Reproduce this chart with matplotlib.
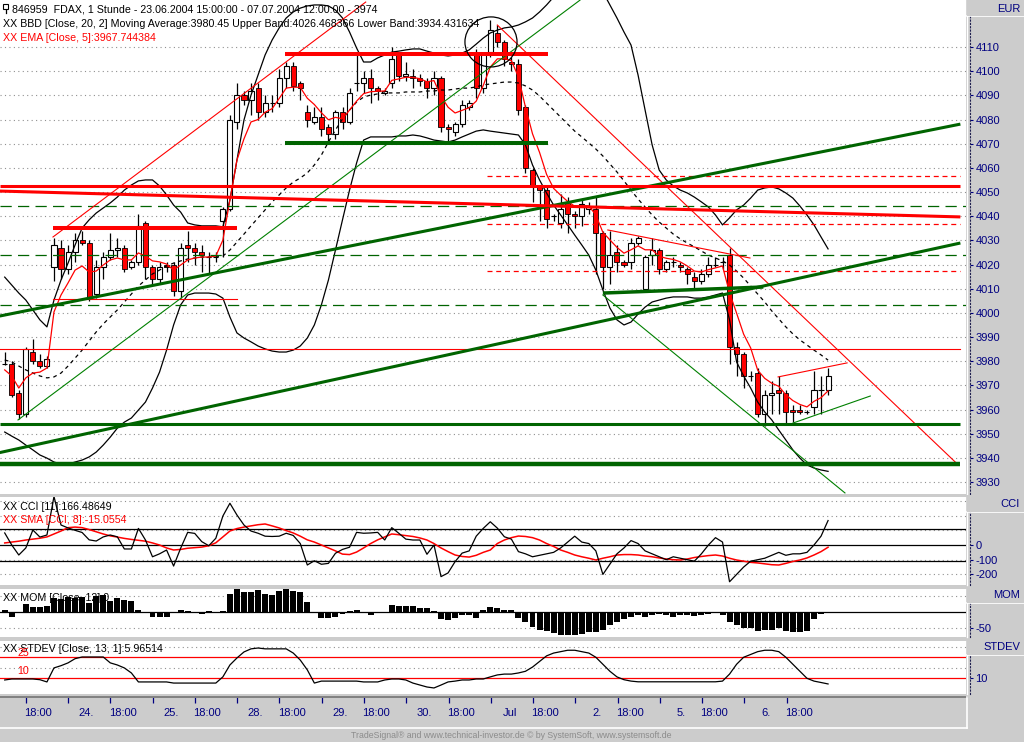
import numpy as np
import matplotlib
matplotlib.use("Agg")
import matplotlib.pyplot as plt
from matplotlib.patches import Ellipse, Rectangle
from matplotlib.lines import Line2D
from matplotlib.transforms import blended_transform_factory

plt.rcParams['font.family'] = ['Liberation Sans', 'DejaVu Sans']

# ---------------------------------------------------------------- data
opens = [3979, 3979, 3967, 3958, 3984, 3980, 3978, 4019, 4027, 4018,
         4025, 4030, 4029, 4008, 4019, 4023, 4026, 4027, 4019, 4021,
         4037, 4019, 4014, 4020, 4020, 4009, 4028, 4027, 4025, 4023,
         4023, 4038, 4043, 4079, 4090, 4088, 4093, 4083, 4087, 4087,
         4097, 4102, 4095, 4083, 4079, 4081, 4077, 4074, 4083, 4079,
         4095, 4095, 4097, 4093, 4091, 4095, 4107, 4098, 4098, 4097,
         4096, 4093, 4097, 4077, 4075, 4078, 4085, 4108, 4093, 4108,
         4116, 4112, 4104, 4103, 4085, 4059, 4052, 4051, 4040, 4037,
         4046, 4041, 4040, 4043, 4043, 4033, 4019, 4025, 4021, 4021,
         4029, 4010, 4024, 4026, 4018, 4021, 4020, 4018, 4015, 4013,
         4016, 4020, 4021, 4024, 3986, 3983, 3974, 3975, 3958, 3966,
         3968, 3967, 3960, 3960, 3959, 3961, 3968, 3968]
highs = [3984, 3980, 3968, 3986, 3989, 3983, 3982, 4031, 4030, 4028,
         4033, 4034, 4030, 4022, 4025, 4033, 4031, 4028, 4022, 4041,
         4038, 4020, 4021, 4021, 4021, 4029, 4034, 4029, 4028, 4025,
         4025, 4044, 4082, 4095, 4092, 4095, 4095, 4090, 4090, 4101,
         4104, 4104, 4096, 4086, 4085, 4085, 4078, 4084, 4085, 4093,
         4107, 4100, 4101, 4094, 4093, 4110, 4108, 4104, 4101, 4099,
         4097, 4100, 4098, 4078, 4079, 4088, 4088, 4109, 4108, 4121,
         4119, 4113, 4106, 4105, 4086, 4060, 4053, 4052, 4041, 4049,
         4048, 4042, 4047, 4046, 4048, 4034, 4034, 4028, 4022, 4031,
         4032, 4024, 4031, 4027, 4022, 4023, 4021, 4019, 4017, 4018,
         4023, 4023, 4023, 4027, 3988, 3984, 3976, 3977, 3968, 3972,
         3974, 3968, 3962, 3962, 3960, 3976, 3974, 3977]
lows = [3978.5, 3965, 3956, 3957, 3979, 3977, 3977, 4013, 4014, 4016,
        4021, 4028, 4005, 4006, 4014, 4022, 4023, 4017, 4018, 4020,
        4014, 4012, 4012, 4017, 4007, 4006, 4021, 4020, 4017, 4016,
        4021, 4023, 4042, 4076, 4086, 4082, 4080, 4081, 4083, 4085,
        4093, 4092, 4088, 4077, 4078, 4073, 4071, 4072, 4076, 4078,
        4092, 4091, 4087, 4088, 4090, 4093, 4096, 4096, 4093, 4094,
        4089, 4090, 4075, 4071, 4073, 4077, 4084, 4089, 4091, 4106,
        4110, 4102, 4100, 4082, 4058, 4046, 4038, 4035, 4038, 4035,
        4033, 4035, 4036, 4041, 4016, 4010, 4012, 4017, 4019, 4018,
        4028, 4009, 4020, 4016, 4017, 4019, 4017, 4012, 4010, 4012,
        4015, 4019, 4018, 3979, 3974, 3969, 3972, 3957, 3953, 3958,
        3958, 3954, 3955, 3958, 3958, 3958, 3958, 3966]
closes = [3979, 3966, 3958, 3985, 3980, 3978, 3981, 4028, 4018, 4025,
          4030, 4029, 4006, 4019, 4023, 4026, 4027, 4018, 4021, 4036,
          4019, 4014, 4019, 4019, 4009, 4027, 4027, 4025, 4024, 4023,
          4023, 4043, 4080, 4090, 4088, 4092, 4083, 4087, 4087, 4097,
          4102, 4094, 4093, 4080, 4081, 4076, 4074, 4083, 4079, 4091,
          4095, 4097, 4093, 4092, 4092, 4105, 4098, 4099, 4097, 4096,
          4093, 4097, 4077, 4076, 4078, 4086, 4087, 4093, 4107, 4117,
          4112, 4105, 4103, 4084, 4060, 4052, 4051, 4039, 4040, 4043,
          4041, 4040, 4045, 4044, 4033, 4019, 4024, 4021, 4020, 4029,
          4031, 4023, 4026, 4018, 4021, 4021, 4019, 4016, 4013, 4016,
          4020, 4020, 4021, 3986, 3983, 3974, 3974, 3958, 3966, 3967,
          3967, 3959, 3959, 3959, 3959, 3968, 3968, 3974]

bb_upper = [4014.8, 4011.5, 4008.2, 4005.3, 4001.2, 3997.1, 3994.2, 4005.3, 4013.6, 4020.6,
            4028.1, 4035.1, 4038.5, 4041.3, 4043.4, 4045.5, 4047.9, 4050.8, 4052.9, 4054.6,
            4055.0, 4055.0, 4052.5, 4048.8, 4044.6, 4041.7, 4037.2, 4036.4, 4036.0, 4036.0,
            4036.0, 4035.6, 4046.7, 4063.2, 4079.8, 4090.1, 4098.4, 4106.7, 4112.9, 4117.9,
            4122.0, 4124.5, 4126.1, 4127.0, 4127.4, 4127.4, 4127.0, 4125.3, 4122.0, 4116.2,
            4109.6, 4103.8, 4103.8, 4105.5, 4106.7, 4107.9, 4108.3, 4108.8, 4109.2, 4109.2,
            4108.3, 4107.5, 4106.7, 4106.3, 4106.7, 4107.5, 4108.8, 4111.2, 4113.7, 4115.8,
            4117.0, 4117.9, 4118.3, 4119.1, 4120.4, 4122.0, 4124.5, 4127.4, 4130.7, 4132.8,
            4134.4, 4135.2, 4135.7, 4135.2, 4134.4, 4132.8, 4127.4, 4122.0, 4116.2, 4110.8,
            4098.4, 4083.9, 4069.5, 4059.1, 4055.0, 4052.5, 4050.8, 4049.6, 4047.9, 4045.9,
            4043.8, 4040.5, 4036.4, 4039.3, 4042.6, 4044.6, 4047.5, 4050.8, 4051.7, 4052.1,
            4051.3, 4049.6, 4047.5, 4044.2, 4040.5, 4036.4, 4031.4, 4026.47]
bb_mid = [3980.5, 3979.7, 3978.0, 3976.4, 3975.1, 3973.9, 3973.1, 3973.5, 3975.1, 3978.0,
          3981.3, 3984.6, 3988.4, 3992.1, 3995.4, 3998.3, 4001.2, 4004.5, 4007.8, 4011.1,
          4013.6, 4016.1, 4017.7, 4019.4, 4020.6, 4021.5, 4022.3, 4022.7, 4023.1, 4023.1,
          4023.1, 4023.5, 4026.0, 4029.3, 4032.6, 4036.0, 4039.3, 4042.6, 4045.9, 4048.8,
          4051.7, 4054.1, 4055.8, 4057.9, 4061.2, 4065.3, 4070.7, 4075.7, 4080.2, 4083.9,
          4087.2, 4089.3, 4090.1, 4090.6, 4091.0, 4091.0, 4091.0, 4091.4, 4091.4, 4091.4,
          4091.8, 4091.8, 4092.2, 4092.2, 4092.6, 4093.0, 4093.0, 4093.5, 4094.3, 4094.7,
          4095.1, 4095.5, 4095.5, 4095.1, 4093.9, 4092.2, 4089.7, 4086.8, 4083.9, 4081.0,
          4078.1, 4075.2, 4072.8, 4070.3, 4067.8, 4064.9, 4061.6, 4058.3, 4054.6, 4050.8,
          4047.1, 4043.8, 4040.5, 4037.6, 4035.1, 4032.6, 4030.6, 4028.9, 4027.3, 4025.6,
          4023.9, 4022.7, 4021.5, 4019.8, 4017.3, 4014.4, 4011.1, 4007.8, 4004.5, 4000.8,
          3997.5, 3994.2, 3991.3, 3988.8, 3986.7, 3984.6, 3982.6, 3980.45]
bb_lower = [3950.7, 3949.0, 3947.4, 3945.3, 3943.3, 3941.2, 3939.9, 3938.3, 3937.4, 3937.4,
            3938.3, 3939.1, 3940.4, 3942.4, 3945.3, 3948.6, 3952.3, 3954.8, 3956.5, 3959.8,
            3963.1, 3968.9, 3975.5, 3984.6, 3995.0, 4003.3, 4007.4, 4008.2, 4008.2, 4008.2,
            4007.8, 4006.1, 3998.3, 3991.7, 3989.6, 3988.0, 3986.3, 3985.1, 3984.2, 3983.8,
            3983.8, 3984.6, 3986.3, 3989.6, 3995.0, 4003.3, 4013.6, 4026.0, 4038.5, 4050.8,
            4062.0, 4071.5, 4072.8, 4072.8, 4072.8, 4072.8, 4073.2, 4073.2, 4073.6, 4073.2,
            4072.4, 4071.5, 4071.1, 4070.7, 4071.5, 4072.8, 4074.0, 4075.2, 4075.7, 4075.2,
            4074.8, 4074.4, 4074.0, 4073.6, 4069.5, 4061.2, 4055.0, 4049.6, 4044.6, 4040.5,
            4036.4, 4032.2, 4028.1, 4023.9, 4017.7, 4009.5, 4002.0, 3997.1, 3995.0, 3996.2,
            3999.5, 4002.4, 4004.5, 4005.3, 4006.1, 4006.6, 4006.6, 4006.6, 4006.1, 4006.1,
            4006.6, 4007.4, 4008.2, 3997.1, 3979.7, 3973.9, 3968.9, 3963.1, 3959.0, 3955.7,
            3951.5, 3947.4, 3943.3, 3939.9, 3937.1, 3935.8, 3935.0, 3934.43]
ema5 = [3976.4, 3973.9, 3968.9, 3973.1, 3975.1, 3975.5, 3977.2, 4000.4, 4007.4, 4012.4,
        4017.7, 4019.4, 4016.9, 4017.3, 4019.8, 4021.9, 4022.7, 4021.9, 4021.9, 4024.8,
        4023.5, 4021.5, 4021.1, 4020.2, 4017.7, 4019.8, 4021.9, 4022.7, 4023.1, 4023.1,
        4023.5, 4030.1, 4046.7, 4063.2, 4072.0, 4079.0, 4080.0, 4083.0, 4084.5, 4088.7,
        4093.0, 4093.4, 4093.3, 4088.8, 4086.2, 4082.8, 4079.9, 4080.9, 4080.3, 4083.9,
        4087.6, 4090.7, 4091.5, 4091.7, 4091.8, 4096.2, 4096.8, 4097.5, 4097.4, 4096.9,
        4095.6, 4096.1, 4089.7, 4085.1, 4082.7, 4083.8, 4084.9, 4087.6, 4094.1, 4101.7,
        4105.1, 4105.1, 4104.4, 4097.6, 4085.1, 4074.1, 4066.4, 4057.3, 4051.5, 4048.7,
        4046.1, 4044.1, 4044.4, 4044.3, 4040.5, 4033.3, 4030.2, 4027.1, 4024.7, 4026.1,
        4027.7, 4026.1, 4026.1, 4023.4, 4022.6, 4022.1, 4021.1, 4019.4, 4017.3, 4016.9,
        4017.9, 4018.6, 4019.4, 4008.3, 3999.9, 3991.2, 3985.5, 3976.3, 3972.9, 3970.9,
        3969.6, 3966.1, 3963.7, 3962.1, 3961.1, 3963.4, 3964.9, 3967.74]

cci = [82, 0, -68, -20, 102, 54, 68, 330, 136, 116,
       100, 85, 35, 27, 55, 68, 56, -27, -27, 113,
       34, -80, -60, -34, -143, -22, 86, 79, 23, -5,
       46, 197, 284, 204, 136, 95, 80, 60, 58, 60,
       80, 65, 10, -136, -107, -131, -125, -56, -30, -15,
       86, 80, 82, 86, 34, 118, 80, 40, 34, 34,
       -63, 0, -215, -190, -113, -55, -40, 60, 113, 158,
       115, 56, 40, -45, -60, -80, -70, -60, -50, -20,
       20, 60, 20, 10, -40, -200, -130, -60, -20, 30,
       10, -40, -60, -80, -100, -80, -90, -100, -110, -60,
       0, 50, 20, -250, -200, -150, -110, -100, -90, -70,
       -50, -70, -60, -60, -50, 0, 60, 166.49]
cci_sma = [14, 20, 26, 34, 40, 46, 55, 75, 95, 118,
           122, 118, 105, 90, 75, 62, 54, 45, 38, 32,
           26, 14, 0, -20, -34, -30, -22, -18, -14, -5,
           15, 55, 95, 112, 122, 130, 138, 143, 130, 116,
           98, 82, 60, 35, 20, 0, -20, -40, -62, -65,
           -48, -20, 10, 35, 55, 75, 70, 64, 58, 48,
           34, 10, -20, -45, -68, -78, -82, -70, -50, -34,
           10, 34, 50, 61, 58, 50, 34, 10, -10, -34,
           -50, -68, -80, -90, -102, -90, -80, -68, -65, -65,
           -68, -75, -80, -88, -95, -100, -102, -95, -85, -78,
           -72, -68, -75, -90, -102, -110, -118, -122, -128, -134,
           -136, -125, -112, -102, -88, -68, -45, -15.06]
mom = [7, -16, 0, 26, 18, 15, 21, 44, 42, 49,
       44, 49, 29, 51, 54, 36, 44, 37, 36, 7,
       0, -14, -14, -14, 0, 6, 4, -3, -6, 4,
       0, 4, 58, 72, 64, 64, 69, 56, 54, 67,
       72, 67, 64, 33, 0, -17, -17, -14, -6, 4,
       7, -3, -10, -3, -3, 23, 20, 20, 20, 12,
       12, 4, -21, -24, -17, -10, -8, -17, 6, 16,
       12, 7, 7, -17, -30, -45, -55, -60, -65, -70,
       -72, -70, -68, -62, -62, -55, -40, -30, -20, -15,
       -10, -15, -8, -5, -10, -15, -10, -8, -12, -10,
       -5, -3, -8, -30, -40, -50, -50, -60, -55, -55,
       -50, -60, -62, -63, -60, -20, -5, 0]
stdev = [8.8, 9.5, 9.5, 9.5, 9.5, 9.0, 7.4, 17.4, 19.0, 21.0,
         24.0, 25.2, 25.2, 25.2, 25.2, 21.0, 19.5, 17.4, 13.8, 7.4,
         7.4, 7.4, 7.4, 7.4, 6.6, 6.6, 6.6, 6.6, 6.6, 6.6,
         6.6, 11.0, 19.5, 24.5, 28.8, 31.0, 31.6, 31.0, 31.0, 31.0,
         31.0, 28.0, 23.0, 16.0, 6.6, 8.0, 8.0, 8.0, 8.0, 8.0,
         8.0, 7.4, 7.4, 7.4, 8.8, 9.5, 9.5, 8.8, 6.6, 5.2,
         3.8, 3.1, 5.2, 7.4, 8.0, 8.8, 8.8, 9.5, 9.5, 11.0,
         12.4, 13.0, 13.0, 13.8, 15, 18, 22, 26, 28, 29,
         30, 30, 29, 28, 25, 20, 15, 11, 9, 8,
         7.5, 7.5, 7.5, 7.5, 7.5, 7.5, 7.5, 7.5, 7.5, 7.5,
         7.5, 7.5, 8, 13, 20, 25, 27, 29, 30, 30,
         29, 25, 20, 15, 10, 8, 7, 5.965]

x_tick_pos = [3, 9, 15, 21, 27, 33, 39, 45, 51, 57, 63, 69, 75, 81, 87, 93, 99, 105, 111]
x_tick_labels = ['18:00', '24.', '18:00', '25.', '18:00', '28.', '18:00', '29.', '18:00',
                 '30.', '18:00', 'Jul', '18:00', '2.', '18:00', '5.', '18:00', '6.', '18:00']
price_ticks = list(range(3930, 4111, 10))

# drawn analysis lines (bar index, price)
red_thick_lines = [(-0.7, 4052.5, 135.8, 4052.5, 2.2), (-0.7, 4050.4, 135.8, 4039.7, 2.2),
                   (6.86, 4035.1, 33.0, 4035.1, 2.9), (39.8, 4107.1, 77.2, 4107.1, 2.9)]
green_thick_lines = [(39.8, 4070.3, 77.2, 4070.3, 2.9), (-0.7, 3954.0, 135.8, 3954.0, 2.2),
                     (-0.7, 3937.3, 135.8, 3937.3, 3.2), (-0.7, 3998.7, 135.8, 4078.1, 2.2),
                     (-0.7, 3942.2, 135.8, 4028.9, 2.2), (85.0, 4008.2, 107.8, 4010.7, 2.5)]
red_thin_lines = [(-0.7, 3985.1, 135.8, 3985.1), (6.86, 4005.7, 33.0, 4005.7),
                  (6.86, 4031.4, 51.3, 4128.6), (70.0, 4119.1, 135.5, 3937.1),
                  (85.7, 4034.3, 105.9, 4022.7), (109.9, 3973.5, 119.7, 3979.3)]
green_thin_lines = [(1.89, 3955.7, 81.75, 4129.4), (85.0, 4007.4, 119.4, 3925.5),
                    (112.0, 3954.4, 123.0, 3965.6)]
green_dashed_levels = [4044.2, 4023.9, 4003.3]
red_dashed_levels = [4056.6, 4036.8, 4017.3]
red_dashed_start = 68.5
circle_mark = (69.1, 4112.1, 7.4, 20.7)

# ---------------------------------------------------------------- layout
W, H = 1024, 742
BG = "#cccccc"
NAVY = "#000080"
XLIM = (-0.67, 136.6)


def rect(x0, y0, x1, y1):
    return [x0 / W, 1 - y1 / H, (x1 - x0) / W, (y1 - y0) / H]


def fx(x):
    return x / W


def fy(y):
    return 1 - y / H


fig = plt.figure(figsize=(W / 100, H / 100), dpi=100)
fig.patch.set_facecolor(BG)

ax = fig.add_axes(rect(0, 0, 966, 494))
ax_cci = fig.add_axes(rect(0, 497, 966, 585))
ax_mom = fig.add_axes(rect(0, 589, 966, 637))
ax_sd = fig.add_axes(rect(0, 641, 966, 694))
ax_x = fig.add_axes(rect(0, 697, 967, 727))


def setup(a, ylim, ticks, labels):
    a.set_facecolor("white")
    a.set_xlim(*XLIM)
    a.set_ylim(*ylim)
    for s in ("left", "top", "bottom"):
        a.spines[s].set_visible(False)
    a.spines["right"].set_position(("outward", 3))
    a.spines["right"].set_linestyle((0, (1, 2)))
    a.spines["right"].set_color("#202050")
    a.spines["right"].set_linewidth(0.8)
    a.yaxis.tick_right()
    a.set_yticks(ticks)
    a.set_yticklabels(labels)
    a.tick_params(axis="y", direction="out", length=2.2, width=0.8, colors=NAVY,
                  labelsize=8, pad=1.5)
    a.tick_params(axis="x", bottom=False, labelbottom=False)


def dotted(a, levels):
    for lv in levels:
        a.axhline(lv, color="#909090", lw=0.8, ls=(0, (1, 3)), zorder=0.5)


setup(ax, (3925.06, 4129.45), price_ticks, [str(p) for p in price_ticks])
setup(ax_cci, (-272, 326.5), [0, -100, -200], ["0", "-100", "-200"])
setup(ax_mom, (-77.2, 72.8), [-50], ["-50"])
setup(ax_sd, (-1.2, 36.6), [10], ["10"])

# ---------------------------------------------------------------- main panel
dotted(ax, price_ticks)
xi = np.arange(len(closes))
o, hi, lo, c = map(np.array, (opens, highs, lows, closes))
up = c >= o
ax.vlines(xi, lo, hi, color="black", lw=0.9, zorder=3)
ax.bar(xi[up], (c - o)[up], bottom=o[up], width=0.72, color="white",
       edgecolor="black", linewidth=0.8, zorder=4)
ax.bar(xi[~up], (o - c)[~up], bottom=c[~up], width=0.72, color="#ff0000",
       edgecolor="black", linewidth=0.6, zorder=4)

ax.plot(xi, bb_upper, color="black", lw=0.9, zorder=5)
ax.plot(xi, bb_lower, color="black", lw=0.9, zorder=5)
ax.plot(xi, bb_mid, color="black", lw=0.9, ls=(0, (3, 3)), zorder=5)
ax.plot(xi, ema5, color="#ff0000", lw=0.9, zorder=5)

for lv in green_dashed_levels:
    ax.plot(XLIM, [lv, lv], color="#006400", lw=0.9, ls=(0, (9, 5)), zorder=5)
for lv in red_dashed_levels:
    ax.plot([red_dashed_start, 135.8], [lv, lv], color="#ff0000", lw=0.9,
            ls=(0, (4, 3)), zorder=5)
for x0, y0, x1, y1 in red_thin_lines:
    ax.plot([x0, x1], [y0, y1], color="#ff0000", lw=0.8, zorder=6)
for x0, y0, x1, y1 in green_thin_lines:
    ax.plot([x0, x1], [y0, y1], color="#008000", lw=0.8, zorder=6)
for x0, y0, x1, y1, w in green_thick_lines:
    ax.plot([x0, x1], [y0, y1], color="#006400", lw=w, zorder=6,
            solid_capstyle="butt")
for x0, y0, x1, y1, w in red_thick_lines:
    ax.plot([x0, x1], [y0, y1], color="#ff0000", lw=w, zorder=6,
            solid_capstyle="butt")
cx, cy, cw, ch = circle_mark
ax.add_patch(Ellipse((cx, cy), cw, ch, fill=False, edgecolor="black", lw=0.9, zorder=6))

# ---------------------------------------------------------------- CCI
dotted(ax_cci, [300, 200, 100, -100, -200])
for lv in (110, 0, -110):
    ax_cci.axhline(lv, color="black", lw=0.9, zorder=1)
ax_cci.plot(xi, cci_sma, color="#ff0000", lw=1.1, zorder=3)
ax_cci.plot(xi, cci, color="black", lw=0.9, zorder=4)

# ---------------------------------------------------------------- MOM
dotted(ax_mom, [50, -50])
ax_mom.axhline(0, color="black", lw=0.9, zorder=1)
ax_mom.bar(xi, mom, width=0.85, color="black", zorder=3)

# ---------------------------------------------------------------- STDEV
dotted(ax_sd, [32.5, 17.5])
ax_sd.axhline(25, color="#ff0000", lw=0.9, zorder=1)
ax_sd.axhline(10, color="#ff0000", lw=0.9, zorder=1)
ax_sd.plot(xi, stdev, color="black", lw=0.9, zorder=3)

# ---------------------------------------------------------------- x axis strip
ax_x.set_facecolor(BG)
ax_x.set_xlim(*XLIM)
ax_x.set_ylim(0, 1)
for s in ("left", "right", "bottom"):
    ax_x.spines[s].set_visible(False)
ax_x.spines["top"].set_color("#808080")
ax_x.spines["top"].set_linewidth(1.4)
ax_x.set_yticks([])
ax_x.xaxis.set_ticks_position("top")
ax_x.set_xticks(x_tick_pos)
ax_x.set_xticklabels([])
ax_x.tick_params(axis="x", direction="in", length=4.5, width=0.9, colors=NAVY,
                 top=True, labeltop=False, bottom=False, labelbottom=False)
trans = blended_transform_factory(ax_x.transData, ax_x.transAxes)
for p, lab in zip(x_tick_pos, x_tick_labels):
    ax_x.text(p + 3.7, 0.47, lab, transform=trans, ha="right", va="center",
              color=NAVY, fontsize=8)

# ---------------------------------------------------------------- frame decorations
def fline(xs, ys, color, lw=1.0):
    fig.add_artist(Line2D([fx(v) for v in xs], [fy(v) for v in ys],
                          transform=fig.transFigure, color=color, lw=lw))

for (y0, y1, name) in ((0, 16, "EUR"), (495, 512, "CCI"), (587, 603, "MOM"), (639, 655, "STDEV")):
    fig.add_artist(Rectangle((fx(967), fy(y1)), (1024 - 967) / W, (y1 - y0) / H,
                             transform=fig.transFigure, facecolor=BG, edgecolor="none", zorder=5))
    fline([967, 1024], [y1, y1], "white", 1.2)
    fig.text(fx(1020), fy((y0 + y1) / 2 + 0.5), name, ha="right", va="center",
             color=NAVY, fontsize=8, zorder=6)
for (y0, y1) in ((0, 494), (497, 585), (589, 637), (641, 694)):
    fline([967, 967], [y0, y1], "white", 1.0)
fline([0, 967], [727.5, 727.5], "white", 1.2)
fline([967, 967], [697, 728], "white", 1.2)

# legend texts
fig.add_artist(Rectangle((fx(3), fy(9)), 5 / W, 5 / H, transform=fig.transFigure,
                         facecolor="white", edgecolor="black", lw=0.8, zorder=6))
fline([5.5, 5.5], [9, 13], "black", 0.9)
fig.text(fx(12), fy(9), "846959  FDAX, 1 Stunde - 23.06.2004 15:00:00 - 07.07.2004 12:00:00 - 3974",
         ha="left", va="center", fontsize=7.7, color="black")
fig.text(fx(3), fy(24), "XX BBD [Close, 20, 2] Moving Average:3980.45 Upper Band:4026.468366 Lower Band:3934.431634",
         ha="left", va="center", fontsize=7.7, color="black")
fig.text(fx(3), fy(38), "XX EMA [Close, 5]:3967.744384", ha="left", va="center",
         fontsize=7.7, color="#ff0000")
fig.text(fx(3), fy(506.5), "XX CCI [11]:166.48649", ha="left", va="center",
         fontsize=7.7, color="black")
fig.text(fx(3), fy(520), "XX SMA [CCI, 8]:-15.0554", ha="left", va="center",
         fontsize=7.7, color="#ff0000")
fig.text(fx(3), fy(598), "XX MOM [Close, 12]:0", ha="left", va="center",
         fontsize=7.7, color="black")
fig.text(fx(3), fy(649), "XX STDEV [Close, 13, 1]:5.96514", ha="left", va="center",
         fontsize=7.7, color="black")
fig.text(fx(17), fy(653), "25", ha="left", va="center", fontsize=7.7, color="#ff0000")
fig.text(fx(17), fy(671.5), "10", ha="left", va="center", fontsize=7.7, color="#ff0000")
fig.text(fx(511), fy(735), "TradeSignal\u00ae and www.technical-investor.de \u00a9 by SystemSoft, www.systemsoft.de",
         ha="center", va="center", fontsize=6.3, color="#8c8c8c")

fig.savefig("out.png", dpi=100, facecolor=BG)
